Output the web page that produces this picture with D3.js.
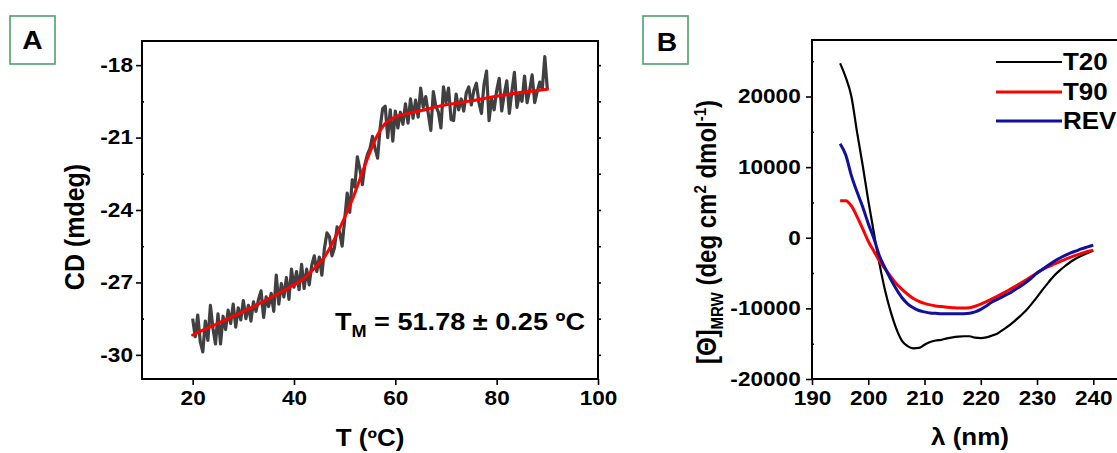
<!DOCTYPE html>
<html>
<head>
<meta charset="utf-8">
<script src="https://cdn.jsdelivr.net/npm/d3@7"></script>
<style>
  html, body { margin: 0; padding: 0; background: #fff; }
  svg { display: block; }
  text { font-family: "Liberation Sans", Arial, sans-serif; font-weight: bold; fill: #000; }
</style>
</head>
<body>
<svg id="chart" width="1117" height="453"></svg>
<script>
// ---------- Panel A data: thermal denaturation ----------
const tempC = [20,20.5,21,21.5,22,22.5,23,23.5,24,24.5,25,25.5,26,26.5,27,27.5,28,28.5,29,29.5,
  30,30.5,31,31.5,32,32.5,33,33.5,34,34.5,35,35.5,36,36.5,37,37.5,38,38.5,39,39.5,
  40,40.5,41,41.5,42,42.5,43,43.5,44,44.5,45,45.5,46,46.5,47,47.5,48,48.5,49,49.5,
  50,50.5,51,51.5,52,52.5,53,53.5,54,54.5,55,55.5,56,56.5,57,57.5,58,58.5,59,59.5,
  60,60.5,61,61.5,62,62.5,63,63.5,64,64.5,65,65.5,66,66.5,67,67.5,68,68.5,69,69.5,
  70,70.5,71,71.5,72,72.5,73,73.5,74,74.5,75,75.5,76,76.5,77,77.5,78,78.5,79,79.5,
  80,80.5,81,81.5,82,82.5,83,83.5,84,84.5,85,85.5,86,86.5,87,87.5,88,88.5,89,89.5,90];
const cdMdeg = [-28.50,-29.25,-28.35,-29.45,-29.88,-28.60,-29.40,-27.95,-28.90,-29.55,
  -28.30,-29.55,-28.40,-28.95,-28.15,-28.70,-27.90,-28.85,-28.05,-28.55,
  -27.75,-28.50,-27.95,-28.60,-27.80,-28.20,-27.70,-27.35,-28.45,-27.60,
  -28.00,-27.45,-28.20,-26.70,-27.90,-27.05,-27.60,-26.80,-27.70,-26.45,
  -27.20,-26.55,-27.30,-26.25,-27.25,-26.45,-27.10,-26.30,-25.90,-26.55,
  -25.95,-26.70,-25.60,-24.95,-25.10,-25.90,-25.55,-24.70,-24.90,-25.50,
  -24.40,-23.30,-24.10,-22.75,-23.05,-21.80,-22.30,-22.95,-22.10,-21.70,
  -21.45,-20.95,-21.45,-21.85,-20.60,-19.80,-19.70,-21.00,-19.85,-21.15,
  -19.90,-20.60,-19.95,-20.45,-19.60,-20.40,-19.40,-20.20,-19.45,-20.15,
  -18.95,-19.75,-19.30,-20.00,-20.70,-19.10,-19.70,-19.95,-20.60,-18.90,
  -19.55,-18.95,-20.25,-20.30,-19.20,-19.85,-19.40,-19.90,-19.15,-18.90,
  -19.65,-19.05,-18.75,-19.55,-20.00,-18.80,-18.25,-20.30,-19.40,-19.85,
  -19.05,-18.55,-19.90,-19.20,-18.65,-20.00,-19.10,-18.30,-19.75,-19.20,
  -19.50,-18.45,-19.55,-19.05,-18.40,-19.55,-19.10,-18.70,-19.00,-17.65,-19.00];
const fitT = [20,22,24,26,28,30,32,34,36,38,40,42,44,46,48,50,52,54,56,58,60,62,64,66,68,70,72,74,76,78,80,82,84,86,88,90];
const fitCD = [-29.18,-28.98,-28.79,-28.59,-28.40,-28.20,-28.00,-27.78,-27.56,-27.33,
  -27.10,-26.83,-26.42,-25.95,-25.20,-24.30,-23.30,-22.15,-21.10,-20.42,
  -20.15,-20.02,-19.93,-19.84,-19.73,-19.64,-19.58,-19.51,-19.44,-19.36,
  -19.29,-19.22,-19.15,-19.10,-19.05,-19.00];
const xTicksA = [20,40,60,80,100];
const yTicksA = [-30,-27,-24,-21,-18];
const yMinorA = [-28.5,-25.5,-22.5,-19.5];
const yRightA = [-30,-28.5,-27,-25.5,-24,-22.5,-21,-19.5,-18];

// ---------- Panel B data: CD spectra ----------
const wavelength = [195,196,197,198,199,200,201,202,203,204,205,206,207,208,209,210,211,212,213,214,
  215,216,217,218,219,220,221,222,223,224,225,226,227,228,229,230,231,232,233,234,235,236,237,238,239,240];
const t20 = [24700,22700,20000,15000,10300,5300,700,-3700,-7500,-10500,-12900,-14600,-15350,-15650,-15600,
  -15150,-14750,-14550,-14450,-14250,-14100,-14000,-13950,-13950,-14150,-14200,-14100,-13850,-13550,-13000,
  -12450,-11800,-11100,-10350,-9400,-8400,-7350,-6350,-5400,-4650,-4000,-3400,-2900,-2500,-2150,-1850];
const t90 = [5250,5250,4500,3000,1300,-500,-1900,-3300,-4400,-5500,-6500,-7300,-8000,-8600,-9000,
  -9300,-9500,-9650,-9750,-9850,-9900,-9950,-9950,-9900,-9700,-9400,-9050,-8650,-8250,-7850,
  -7400,-6950,-6500,-6000,-5500,-4950,-4500,-4100,-3750,-3400,-3050,-2750,-2450,-2200,-1950,-1750];
const rev = [13300,11700,8800,6500,4400,2000,-100,-2600,-4300,-5900,-7300,-8500,-9350,-9900,-10300,
  -10500,-10650,-10700,-10750,-10750,-10750,-10750,-10750,-10700,-10500,-10150,-9650,-9100,-8700,-8300,
  -7900,-7400,-6900,-6350,-5700,-5000,-4450,-3900,-3350,-2900,-2500,-2150,-1850,-1550,-1300,-1050];
const seriesNames = ["T20","T90","REV"];
const seriesColors = ["#000000","#ff0000","#1010a0"];
const xTicksB = [190,200,210,220,230,240];
const yTicksB = [-20000,-10000,0,10000,20000];
const yMinorB = [-15000,-5000,5000,15000,25000];

// ---------- drawing ----------
const SX = 1.13; // horizontal stretch of the original typography
const svg = d3.select("#chart");
const fmt = d => String(d);   // plain hyphen-minus like the original

function stretchTicks(sel, size) {
  sel.selectAll(".tick text")
    .attr("transform", `scale(${SX},1)`)
    .style("font-size", size + "px")
    .style("font-family", "'Liberation Sans', Arial, sans-serif")
    .style("font-weight", "bold")
    .attr("fill", "#000");
  sel.selectAll(".tick line").attr("stroke", "#000").attr("stroke-width", 1.6);
  sel.select(".domain").remove();
}
function label(x, y, str, size, anchor, rot) {
  return svg.append("text")
    .attr("transform", `translate(${x},${y}) scale(${SX},1)` + (rot ? ` rotate(${rot})` : ""))
    .attr("text-anchor", anchor || "middle")
    .style("font-size", size + "px")
    .text(str);
}
function panelTag(x, y, w, h, letter, tx, ty) {
  svg.append("rect").attr("x", x).attr("y", y).attr("width", w).attr("height", h)
    .attr("fill", "none").attr("stroke", "#4da06c").attr("stroke-width", 1.6);
  label(tx, ty, letter, 25, "middle");
}

// ---- Panel A ----
const xA = d3.scaleLinear().domain([10, 100]).range([142, 598]);
const yA = d3.scaleLinear().domain([-31, -17]).range([379, 41]);

const gA = svg.append("g");
gA.append("g").attr("transform", "translate(0,379)")
  .call(d3.axisBottom(xA).tickValues(xTicksA).tickFormat(fmt).tickSize(6).tickPadding(6).tickSizeOuter(0))
  .call(s => stretchTicks(s, 20));
gA.append("g").attr("transform", "translate(142,0)")
  .call(d3.axisLeft(yA).tickValues(yTicksA).tickFormat(fmt).tickSize(6).tickPadding(2).tickSizeOuter(0))
  .call(s => stretchTicks(s, 20));
gA.append("g").attr("transform", "translate(142,0)")
  .call(d3.axisLeft(yA).tickValues(yMinorA).tickFormat("").tickSize(-2).tickSizeOuter(0))
  .call(s => stretchTicks(s, 20));
gA.append("g").attr("transform", "translate(598,0)")
  .call(d3.axisRight(yA).tickValues(yRightA).tickFormat("").tickSize(3).tickSizeOuter(0))
  .call(s => stretchTicks(s, 20));

const lineA = d3.line().x((d, i) => xA(tempC[i])).y(d => yA(d));
gA.append("path").datum(cdMdeg).attr("d", lineA)
  .attr("fill", "none").attr("stroke", "#404040").attr("stroke-width", 3.2).attr("stroke-linejoin", "round");
const fitLine = d3.line().x((d, i) => xA(fitT[i])).y(d => yA(d)).curve(d3.curveMonotoneX);
gA.append("path").datum(fitCD).attr("d", fitLine)
  .attr("fill", "none").attr("stroke", "#ff0000").attr("stroke-width", 3).attr("stroke-linecap", "round");

gA.append("rect").attr("x", 142).attr("y", 41).attr("width", 456).attr("height", 338)
  .attr("fill", "none").attr("stroke", "#000").attr("stroke-width", 2);

// Tm annotation
const tm = svg.append("text")
  .attr("transform", `translate(585,330) scale(${SX},1)`)
  .attr("text-anchor", "end").style("font-size", "24px");
tm.append("tspan").text("T");
tm.append("tspan").attr("dy", 7).style("font-size", "16px").text("M");
tm.append("tspan").attr("dy", -7).text(" = 51.78 ± 0.25 ºC");

label(370, 446, "T (ºC)", 23, "middle");
label(84, 227, "CD (mdeg)", 25, "middle", -90);
panelTag(10, 16, 45, 48, "A", 32.5, 49);

// ---- Panel B ----
const xB = d3.scaleLinear().domain([190, 245]).range([812, 1121.4]);
const yB = d3.scaleLinear().domain([-20000, 28000]).range([379, 40]);

const gB = svg.append("g");
gB.append("g").attr("transform", "translate(0,379)")
  .call(d3.axisBottom(xB).tickValues(xTicksB).tickFormat(fmt).tickSize(6).tickPadding(6).tickSizeOuter(0))
  .call(s => stretchTicks(s, 20));
gB.append("g").attr("transform", "translate(812,0)")
  .call(d3.axisLeft(yB).tickValues(yTicksB).tickFormat(fmt).tickSize(6).tickPadding(4).tickSizeOuter(0))
  .call(s => stretchTicks(s, 20));
gB.append("g").attr("transform", "translate(812,0)")
  .call(d3.axisLeft(yB).tickValues(yMinorB).tickFormat("").tickSize(-2).tickSizeOuter(0))
  .call(s => stretchTicks(s, 20));

const seriesB = [t20, t90, rev];
const widthsB = [2.2, 3, 3];
const lineB = d3.line().x((d, i) => xB(wavelength[i])).y(d => yB(d)).curve(d3.curveMonotoneX);
seriesB.forEach((vals, k) => {
  gB.append("path").datum(vals).attr("d", lineB)
    .attr("fill", "none").attr("stroke", seriesColors[k]).attr("stroke-width", widthsB[k])
    .attr("stroke-linejoin", "round");
});
gB.append("rect").attr("x", 812).attr("y", 40).attr("width", 309.4).attr("height", 339)
  .attr("fill", "none").attr("stroke", "#000").attr("stroke-width", 2);

// legend
const legY = [62, 92, 121];
seriesNames.forEach((name, k) => {
  svg.append("line").attr("x1", 996).attr("x2", 1062).attr("y1", legY[k]).attr("y2", legY[k])
    .attr("stroke", seriesColors[k]).attr("stroke-width", widthsB[k]);
  label(1063, legY[k] + 8, name, 23, "start");
});

// axis titles
label(970, 445, "λ (nm)", 23, "middle");
const yl = svg.append("text")
  .attr("transform", `translate(716,232) scale(${SX},1) rotate(-90)`)
  .attr("text-anchor", "middle").style("font-size", "24px");
yl.append("tspan").text("[Θ]");
yl.append("tspan").attr("dy", 6).style("font-size", "15px").text("MRW");
yl.append("tspan").attr("dy", -6).text(" (deg cm");
yl.append("tspan").attr("dy", -9).style("font-size", "15px").text("2");
yl.append("tspan").attr("dy", 9).text(" dmol");
yl.append("tspan").attr("dy", -9).style("font-size", "15px").text("-1");
yl.append("tspan").attr("dy", 9).text(")");

panelTag(643, 16, 45, 48, "B", 667, 51);
</script>
</body>
</html>
